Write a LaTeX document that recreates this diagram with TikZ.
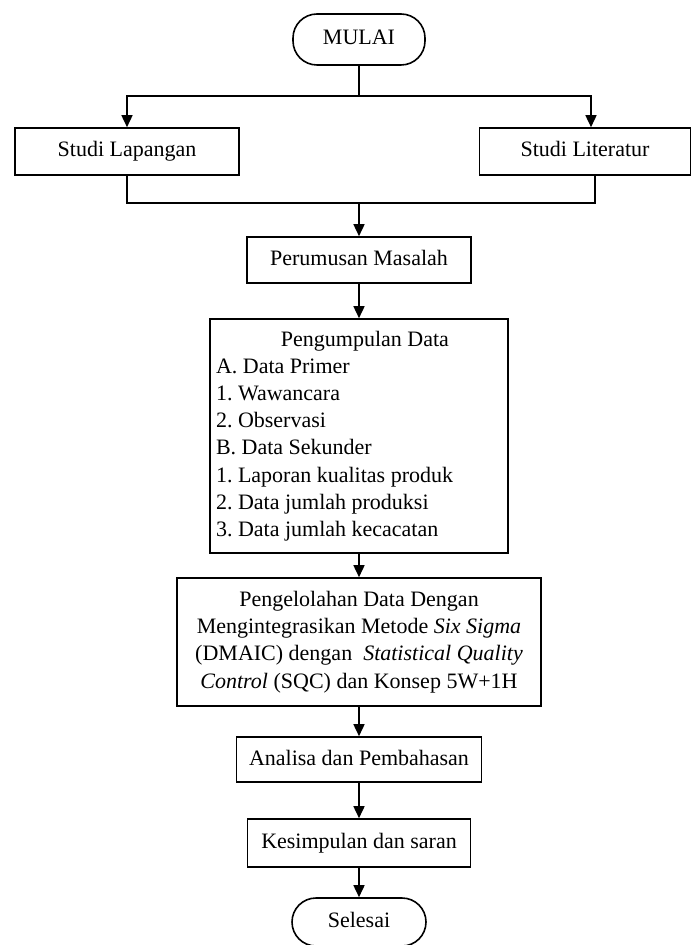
\documentclass[tikz,border=0pt]{standalone}
\usepackage{fontspec}
\setmainfont{Liberation Serif}
\usetikzlibrary{arrows.meta}
\tikzset{every path/.style={line width=0.8pt},
  box/.style={draw, line width=0.8pt, inner sep=3pt, align=center, font=\fontsize{11}{13.6}\selectfont\frenchspacing},
  onebox/.style={box, text height=8pt, text depth=2.5pt},
  term/.style={onebox, rounded corners=12pt},
  arr/.style={-{Triangle[length=6pt,width=5.5pt]}}}

\begin{document}
\begin{tikzpicture}[x=0.5pt,y=-0.5pt]
       \useasboundingbox (0,0) rectangle (691,945);
       \node[term, minimum width=66pt, minimum height=25.5pt] (mulai) at (359,39.5) {MULAI};
       \node[onebox, minimum width=112pt, minimum height=23.5pt] (lapangan) at (127,151.5) {Studi Lapangan};
       \node[onebox, minimum width=105.5pt, minimum height=23.5pt] (literatur) at (585,151.5) {Studi Literatur};
       \node[onebox, minimum width=112pt, minimum height=23pt] (rumusan) at (359,260) {Perumusan Masalah};
       \node[box, minimum width=149pt, minimum height=117pt, align=left] (kumpul) at (359,436)
         {\makebox[143pt]{\hspace{6pt}Pengumpulan Data}\\ A. Data Primer\\ 1. Wawancara\\ 2. Observasi\\ B. Data Sekunder\\
          1. Laporan kualitas produk\\ 2. Data jumlah produksi\\ 3. Data jumlah kecacatan};
       \node[box, minimum width=182pt, minimum height=64pt] (olah) at (359,642)
         {Pengelolahan Data Dengan\\ Mengintegrasikan Metode \textit{Six Sigma}\\
          (DMAIC) dengan~ \textit{Statistical Quality}\\ \textit{Control} (SQC) dan Konsep 5W+1H};
       \node[onebox, minimum width=122.5pt, minimum height=22.5pt] (analisa) at (359,759.5) {Analisa dan Pembahasan};
       \node[onebox, minimum width=111.5pt, minimum height=24pt] (simpul) at (359,843) {Kesimpulan dan saran};
       \node[term, minimum width=67pt, minimum height=24pt] (selesai) at (359,922) {Selesai};
       \coordinate (pisah) at (359,96);
       \coordinate (gabung) at (359,203);
       \draw (mulai) -- (pisah);
       \draw[arr] (pisah) -| (lapangan.north);
       \draw[arr] (pisah) -| ([xshift=3pt]literatur.north);
       \draw (lapangan.south) |- (gabung);
       \draw ([xshift=5pt]literatur.south) |- (gabung);
       \draw[arr] (gabung) -- (rumusan);
       \draw[arr] (rumusan) -- (kumpul);
       \draw[arr] (kumpul) -- (olah);
       \draw[arr] (olah) -- (analisa);
       \draw[arr] (analisa) -- (simpul);
       \draw[arr] (simpul) -- (selesai);
      \end{tikzpicture}
\end{document}
